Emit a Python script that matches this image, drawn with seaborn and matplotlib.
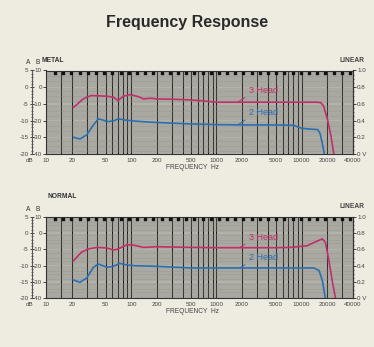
import numpy as np
import pandas as pd
import matplotlib.pyplot as plt
import matplotlib.transforms as mtransforms
from matplotlib.ticker import NullFormatter
import seaborn as sns

# ---- data (dB on the A scale) ----
metal_f3 = [21, 23, 27, 30, 34, 42, 52, 62, 70, 81, 97, 120, 140, 167, 200, 300, 493,
            700, 1000, 2000, 5000, 10000, 15000, 16600, 18000, 20000, 22000, 24000]
metal_db3 = [-6.0, -5.2, -3.6, -3.0, -2.5, -2.6, -2.7, -3.0, -4.0, -2.7, -2.2, -2.8, -3.5,
             -3.3, -3.5, -3.6, -3.8, -4.1, -4.5, -4.5, -4.5, -4.5, -4.5, -4.6, -5.5, -9.5,
             -14.5, -20.5]
metal_f2 = [21, 25, 30, 36, 41, 46, 52, 62, 70, 89, 106, 150, 263, 493, 1000, 2000,
            5000, 8000, 10000, 12000, 15500, 16500, 17500, 18600]
metal_db2 = [-15.0, -15.5, -14.3, -11.3, -9.5, -9.8, -10.3, -10.1, -9.5, -9.9, -10.1,
             -10.4, -10.7, -11.0, -11.2, -11.3, -11.3, -11.4, -12.3, -12.5, -12.7, -14.0,
             -17.0, -20.5]

normal_f3 = [21, 26, 31, 40, 52, 62, 70, 89, 106, 140, 200, 493, 1000, 2000, 5000, 7400,
             11600, 13900, 17500, 19000, 20900, 22800, 25000]
normal_db3 = [-8.5, -5.9, -4.9, -4.4, -4.6, -5.2, -4.9, -3.6, -3.7, -4.4, -4.2, -4.4, -4.5,
              -4.5, -4.5, -4.4, -3.9, -2.9, -1.8, -2.9, -8.5, -14.6, -20.2]
normal_f2 = [21, 25, 30, 36, 41, 52, 62, 73, 89, 106, 200, 493, 1000, 5000, 13900, 16000,
             17500, 19000]
normal_db2 = [-14.4, -15.1, -13.8, -10.5, -9.5, -10.5, -10.2, -9.3, -9.8, -10.0, -10.2,
              -10.7, -10.7, -10.7, -10.7, -11.5, -14.6, -20.2]

freq_ticks = [10, 20, 50, 100, 200, 500, 1000, 2000, 5000, 10000, 20000, 40000]
a_ticks = [5, 0, -5, -10, -15, -20]
b_ticks = [10, 0, -10, -20, -30, -40]
lin_ticks = [0, 0.2, 0.4, 0.6, 0.8, 1.0]
lin_labels = ['0 V', '0.2', '0.4', '0.6', '0.8', '1.0']

panels = ['METAL', 'NORMAL']
heads = ['3 Head', '2 Head']
# (point on curve, text position) for the leader labels
label_pos = {
    'METAL': {'3 Head': ((1770, -4.5), (2400, -1.0)), '2 Head': ((1780, -11.3), (2400, -7.7))},
    'NORMAL': {'3 Head': ((1880, -4.4), (2400, -1.4)), '2 Head': ((1880, -10.7), (2400, -7.6))},
}

rows = []
for f, d in zip(metal_f3, metal_db3):
    rows.append(('METAL', '3 Head', f, d))
for f, d in zip(metal_f2, metal_db2):
    rows.append(('METAL', '2 Head', f, d))
for f, d in zip(normal_f3, normal_db3):
    rows.append(('NORMAL', '3 Head', f, d))
for f, d in zip(normal_f2, normal_db2):
    rows.append(('NORMAL', '2 Head', f, d))
df = pd.DataFrame(rows, columns=['panel', 'head', 'freq', 'db'])

BG = '#eeebe1'
PLOT_BG = '#b3b2aa'
colors = {'3 Head': '#c2306b', '2 Head': '#2a70b3'}

plt.rcParams['font.family'] = ['Liberation Sans', 'DejaVu Sans']
plt.rcParams['text.color'] = '#333333'

W, H = 374, 347
fig = plt.figure(figsize=(W / 100, H / 100), dpi=100, facecolor=BG)

fig.text(187 / W, 1 - 22 / H, 'Frequency Response', ha='center', va='center',
         fontsize=11.5, fontweight='bold', color='#2a2a2a')

# axes boxes in pixels: left, top, right, bottom
boxes = {'METAL': (46, 70.5, 353, 154), 'NORMAL': (46, 216.7, 353, 298.3)}
name_pos = {'METAL': (42, 61), 'NORMAL': (47, 196)}

to_lin = lambda a: (np.asarray(a) + 20) / 25
from_lin = lambda l: np.asarray(l) * 25 - 20

for name in panels:
    l, t, r, b = boxes[name]
    ax = fig.add_axes([l / W, 1 - b / H, (r - l) / W, (b - t) / H])
    ax.set_facecolor(PLOT_BG)

    sub = df[df['panel'] == name]
    sns.lineplot(data=sub, x='freq', y='db', hue='head', palette=colors,
                 estimator=None, legend=False, lw=1.2, ax=ax)

    ax.set_xscale('log')
    ax.set_xlim(10, 40000)
    ax.set_ylim(-20, 5)

    # chart paper grid
    minor_x = [m * 10 ** e for e in range(1, 5) for m in range(1, 10)] + [15]
    minor_x = [v for v in minor_x if 10 <= v <= 40000]
    ax.set_xticks(minor_x, minor=True)
    ax.xaxis.set_minor_formatter(NullFormatter())
    ax.set_xticks(freq_ticks, labels=[str(v) for v in freq_ticks])
    ax.grid(which='both', axis='x', color='#1c1c1c', lw=0.75)
    ax.set_yticks(np.arange(-20, 5.01, 0.5), minor=True)
    ax.yaxis.set_minor_formatter(NullFormatter())
    ax.grid(which='minor', axis='y', color='#8c8b85', lw=0.35)
    ax.set_axisbelow(True)

    ax.tick_params(axis='x', which='both', length=0, labelsize=4.5, pad=3,
                   labelcolor='#444444')
    ax.tick_params(axis='y', which='minor', length=0)
    ax.set_yticks(a_ticks, labels=[str(v) for v in b_ticks])
    ax.tick_params(axis='y', which='major', length=2, width=0.5, labelsize=4.5,
                   pad=1, labelcolor='#444444')
    for s in ax.spines.values():
        s.set_color('#333333')
        s.set_linewidth(0.8)

    ax.set_xlabel('FREQUENCY  Hz', fontsize=4.8, color='#444444')
    ax.xaxis.set_label_coords((192 - l) / (r - l), -(10 / (b - t)))
    ax.set_ylabel('')

    # sprocket marks along the top edge
    trans = mtransforms.blended_transform_factory(ax.transAxes, ax.transAxes)
    sx = np.linspace(9 / (r - l), 304 / (r - l), 37)
    ax.scatter(sx, np.full_like(sx, 1 - 2.5 / (b - t)), marker='s', s=2.2,
               color='#111111', transform=trans, zorder=5, clip_on=False)

    # A scale ruler
    secA = ax.secondary_yaxis(-14 / (r - l))
    secA.set_yticks(a_ticks, labels=[str(v) for v in a_ticks])
    secA.set_yticks(np.arange(-20, 5.01, 1), minor=True)
    secA.yaxis.set_minor_formatter(NullFormatter())
    secA.tick_params(which='major', length=3, width=0.5, direction='inout',
                     labelsize=4.5, pad=1, labelcolor='#444444')
    secA.tick_params(which='minor', length=1.6, width=0.4, direction='inout')
    secA.spines['left'].set_linewidth(0.8)
    secA.spines['left'].set_color('#555555')

    # linear scale on the right
    secR = ax.secondary_yaxis('right', functions=(to_lin, from_lin))
    secR.set_yticks(lin_ticks, labels=lin_labels)
    secR.set_yticks(np.arange(0, 1.001, 0.05), minor=True)
    secR.yaxis.set_minor_formatter(NullFormatter())
    secR.tick_params(which='major', length=2, width=0.5, labelsize=4.5, pad=1,
                     labelcolor='#444444')
    secR.tick_params(which='minor', length=1, width=0.4)

    # headings
    nx, ny = name_pos[name]
    fig.text(nx / W, 1 - ny / H, name, fontsize=4.8, fontweight='bold',
             va='center', color='#333333')
    fig.text(28 / W, 1 - (t - 7.5) / H, 'A', fontsize=4.8, ha='center', va='center')
    fig.text(38 / W, 1 - (t - 7.5) / H, 'B', fontsize=4.8, ha='center', va='center')
    fig.text(352 / W, 1 - (t - 10) / H, 'LINEAR', fontsize=4.8, ha='center',
             va='center', fontweight='bold', color='#444444')
    fig.text(30 / W, 1 - (b + 6) / H, 'dB', fontsize=4.5, ha='center', va='center',
             color='#444444')

    for head in heads:
        pt, tp = label_pos[name][head]
        ax.annotate(head, xy=pt, xytext=tp, color=colors[head], fontsize=6.5,
                    ha='left', va='center',
                    arrowprops=dict(arrowstyle='-', color=colors[head], lw=0.7,
                                    shrinkA=1, shrinkB=0, relpos=(0, 0)))

fig.savefig('out.png', dpi=100, facecolor=BG)
